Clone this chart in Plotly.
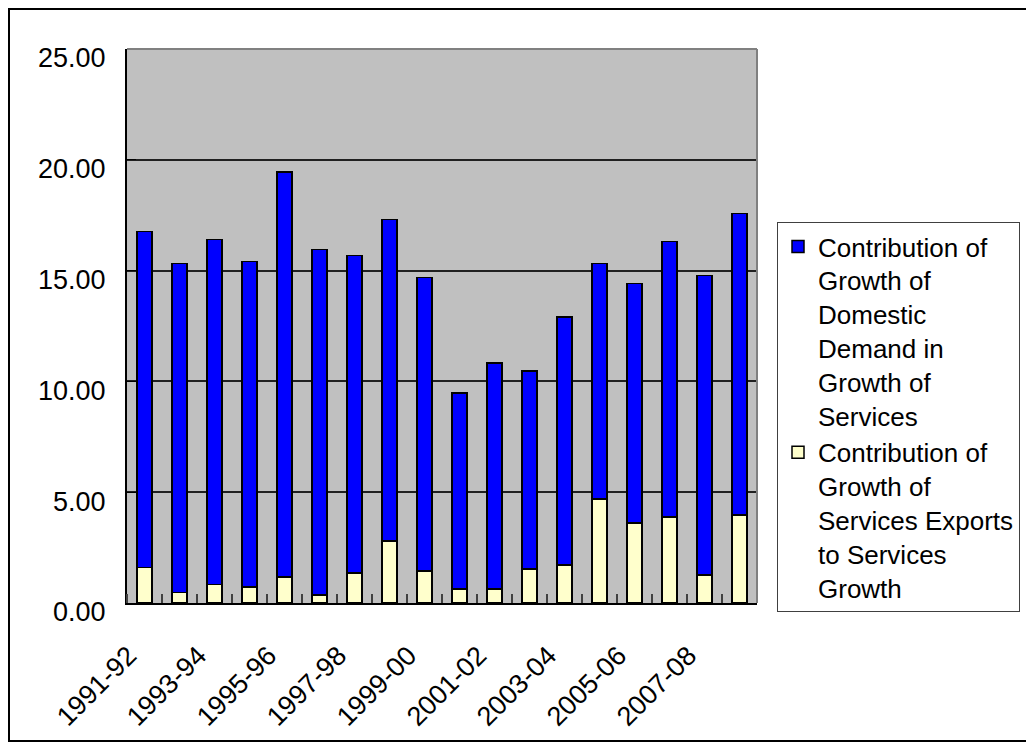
import plotly.graph_objects as go

periods = ["1991-92", "1992-93", "1993-94", "1994-95", "1995-96", "1996-97",
           "1997-98", "1998-99", "1999-00", "2000-01", "2001-02", "2002-03",
           "2003-04", "2004-05", "2005-06", "2006-07", "2007-08", "2008-09"]

totals = [16.76, 15.32, 16.40, 15.41, 19.46, 15.95, 15.68, 17.30, 14.70,
          9.48, 10.84, 10.47, 12.90, 15.32, 14.42, 16.31, 14.78, 17.58]

exports_contrib = [1.61, 0.47, 0.83, 0.72, 1.17, 0.36, 1.35, 2.80, 1.44,
                   0.63, 0.63, 1.53, 1.72, 4.70, 3.61, 3.88, 1.26, 3.97]

domestic_contrib = [round(t - e, 2) for t, e in zip(totals, exports_contrib)]

y_ticks = [0, 5, 10, 15, 20, 25]

name_domestic = "Contribution of<br>Growth of<br>Domestic<br>Demand in<br>Growth of<br>Services"
name_exports = "Contribution of<br>Growth of<br>Services Exports<br>to Services<br>Growth"

xs = list(range(len(periods)))
FONT = "Arial, 'Liberation Sans', sans-serif"

fig = go.Figure()
fig.add_trace(go.Bar(x=xs, y=exports_contrib, name=name_exports,
                     marker=dict(color="#FFFFCC", line=dict(color="black", width=1.5)),
                     hovertext=periods))
fig.add_trace(go.Bar(x=xs, y=domestic_contrib, name=name_domestic,
                     marker=dict(color="#0000FF", line=dict(color="black", width=1.5)),
                     hovertext=periods))

# page body has an 8px default margin, so the figure is placed at (8, 8)
OFF = 8
W, H = 1034 - OFF, 750 - OFF
L, R, T, B = 127 - OFF, 757 - OFF, 49 - OFF, 603 - OFF
pw, ph = R - L, B - T

def px(xp):
    return (xp - OFF - L) / pw

def py(yp):
    return (B - (yp - OFF)) / ph

fig.update_layout(
    width=W, height=H,
    barmode="stack", bargap=0.58,
    plot_bgcolor="#C0C0C0", paper_bgcolor="white",
    margin=dict(l=L, r=W - R, t=T, b=H - B, autoexpand=False),
    font=dict(family=FONT, size=26, color="black"),
    showlegend=True,
    legend=dict(x=px(777), y=py(222), xanchor="left", yanchor="top",
                traceorder="reversed", valign="top",
                bordercolor="#404040", borderwidth=1, bgcolor="white",
                font=dict(family=FONT, size=26, color="black"),
                tracegroupgap=0),
    xaxis=dict(range=[-0.5, len(periods) - 0.5],
               tickvals=xs[::2], ticktext=periods[::2],
               tickangle=-45, ticks="", showgrid=False, zeroline=False,
               showline=True, linecolor="black", linewidth=2,
               ticklabelstandoff=24, ticklabelshift=-16,
               tickfont=dict(family=FONT, size=27, color="black"),
               minor=dict(ticks="inside", tick0=-0.5, dtick=1, ticklen=9,
                          tickcolor="#404040", tickwidth=1.5, showgrid=False)),
    yaxis=dict(range=[0, 25], tickvals=y_ticks, tickformat=".2f",
               showgrid=True, gridcolor="#202020", gridwidth=1.5,
               zeroline=False, showline=True, linecolor="black", linewidth=2,
               ticks="inside", ticklen=9, tickcolor="black",
               ticklabelstandoff=14, ticklabelshift=9,
               tickfont=dict(family=FONT, size=27, color="black")),
    shapes=[
        dict(type="line", xref="paper", yref="paper", x0=0, x1=1, y0=1, y1=1,
             line=dict(color="#808080", width=2), layer="above"),
        dict(type="line", xref="paper", yref="paper", x0=1, x1=1, y0=0, y1=1,
             line=dict(color="#808080", width=2), layer="above"),
        dict(type="rect", xref="paper", yref="paper",
             x0=px(9), x1=px(1031), y0=py(741), y1=py(9),
             line=dict(color="black", width=2), layer="below"),
    ],
)

fig.write_html("out.html")
